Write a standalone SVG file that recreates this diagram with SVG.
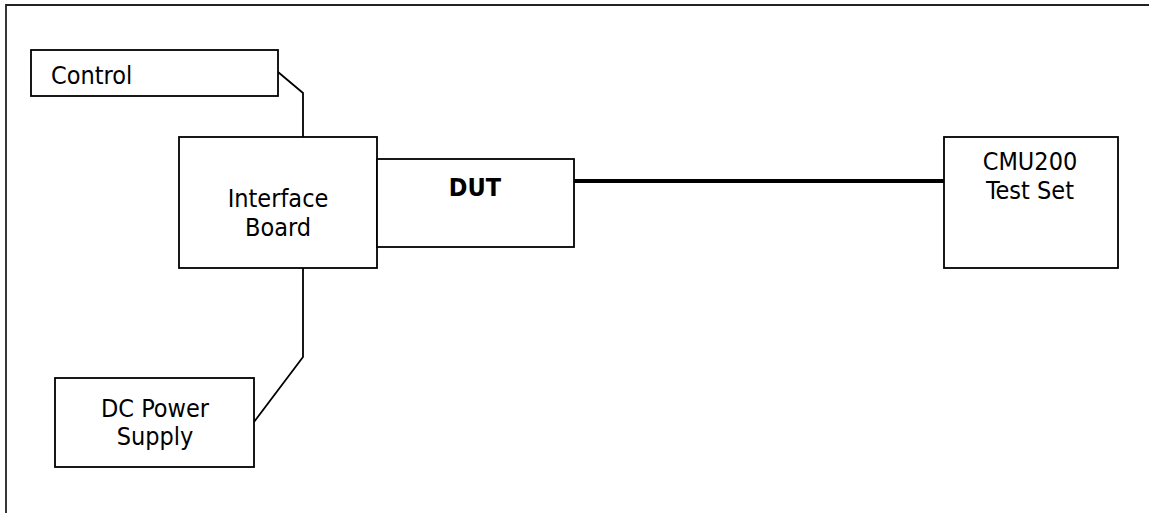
<svg xmlns="http://www.w3.org/2000/svg" width="1149" height="513" viewBox="0 0 1149 513">
  <style>
    .box { fill: #ffffff; stroke: #000000; stroke-width: 1.8; }
    .wire { fill: none; stroke: #000000; stroke-width: 1.8; }
    .thick { fill: none; stroke: #000000; stroke-width: 4; }
    .frame { fill: none; stroke: #222222; stroke-width: 1.8; }
    text { font-family: "DejaVu Sans Condensed", "DejaVu Sans", sans-serif; font-stretch: condensed; font-size: 25px; fill: #000000; }
    .c { text-anchor: middle; }
    .b { font-weight: bold; }
  </style>
  <rect width="1149" height="513" fill="#ffffff"/>
  <path class="frame" d="M6,513 V5 H1149"/>
  <g id="connectors">
    <path class="wire" d="M278,72 L303,93 V137"/>
    <path class="wire" d="M303,268 V357 L254,422"/>
    <path class="thick" d="M574,181 H944"/>
  </g>
  <g id="control">
    <rect class="box" x="31" y="50" width="247" height="46"/>
    <text x="51" y="84">Control</text>
  </g>
  <g id="interface-board">
    <rect class="box" x="179" y="137" width="198" height="131"/>
    <text class="c" x="278" y="207">Interface</text>
    <text class="c" x="278" y="236">Board</text>
  </g>
  <g id="dut">
    <rect class="box" x="377" y="159" width="197" height="88"/>
    <text class="c b" x="475" y="196">DUT</text>
  </g>
  <g id="cmu200">
    <rect class="box" x="944" y="137" width="174" height="131"/>
    <text class="c" x="1030" y="170">CMU200</text>
    <text class="c" x="1030" y="199">Test Set</text>
  </g>
  <g id="dc-power-supply">
    <rect class="box" x="55" y="378" width="199" height="89"/>
    <text class="c" x="155" y="417">DC Power</text>
    <text class="c" x="155" y="445">Supply</text>
  </g>
</svg>
